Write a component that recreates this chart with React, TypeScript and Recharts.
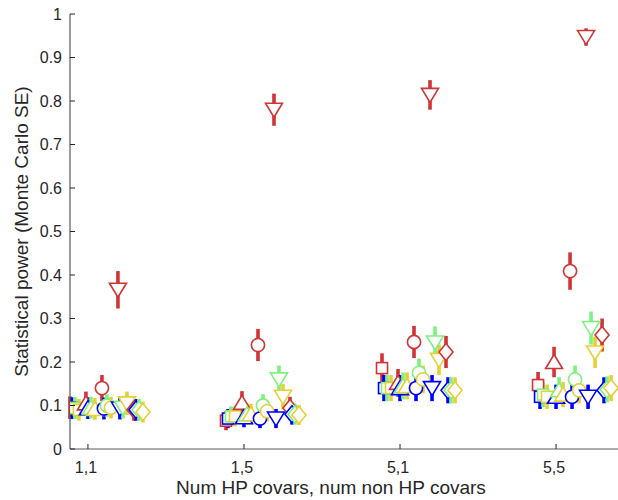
import React from 'react';
import { ScatterChart, Scatter, XAxis, YAxis, ErrorBar, Label } from 'recharts';

// ---- categories & ticks ----
const groupLabels = ['1,1', '1,5', '5,1', '5,5'];
const groupTicks = [1, 2, 3, 4];
const yTicks = [0, 0.1, 0.2, 0.3, 0.4, 0.5, 0.6, 0.7, 0.8, 0.9, 1];

// ---- series values (statistical power) and Monte Carlo SE, one entry per category ----
const redSquare = [0.095, 0.065, 0.186, 0.147];
const redSquareSE = [0.026, 0.022, 0.034, 0.03];
const redTriUp = [0.105, 0.106, 0.152, 0.2];
const redTriUpSE = [0.027, 0.027, 0.032, 0.035];
const redCircle = [0.14, 0.239, 0.246, 0.409];
const redCircleSE = [0.03, 0.037, 0.037, 0.043];
const redTriDown = [0.366, 0.78, 0.814, 0.947];
const redTriDownSE = [0.043, 0.037, 0.034, 0.02];
const redDiamond = [0.09, 0.094, 0.223, 0.262];
const redDiamondSE = [0.025, 0.026, 0.037, 0.038];

const blueSquare = [0.094, 0.07, 0.14, 0.12];
const blueSquareSE = [0.025, 0.022, 0.03, 0.028];
const blueTriUp = [0.094, 0.073, 0.14, 0.12];
const blueTriUpSE = [0.025, 0.023, 0.03, 0.028];
const blueCircle = [0.093, 0.07, 0.14, 0.12];
const blueCircleSE = [0.025, 0.022, 0.03, 0.028];
const blueTriDown = [0.093, 0.07, 0.14, 0.12];
const blueTriDownSE = [0.025, 0.022, 0.03, 0.028];
const blueDiamond = [0.09, 0.08, 0.135, 0.135];
const blueDiamondSE = [0.025, 0.024, 0.03, 0.03];

const greenSquare = [0.094, 0.075, 0.14, 0.125];
const greenSquareSE = [0.025, 0.023, 0.03, 0.029];
const greenTriUp = [0.095, 0.08, 0.145, 0.135];
const greenTriUpSE = [0.025, 0.024, 0.031, 0.03];
const greenCircle = [0.1, 0.1, 0.175, 0.16];
const greenCircleSE = [0.026, 0.026, 0.033, 0.032];
const greenTriDown = [0.095, 0.16, 0.245, 0.278];
const greenTriDownSE = [0.025, 0.032, 0.037, 0.038];
const greenDiamond = [0.09, 0.08, 0.135, 0.137];
const greenDiamondSE = [0.025, 0.024, 0.03, 0.03];

const yellowSquare = [0.09, 0.075, 0.14, 0.12];
const yellowSquareSE = [0.025, 0.023, 0.03, 0.028];
const yellowTriUp = [0.092, 0.08, 0.145, 0.125];
const yellowTriUpSE = [0.025, 0.024, 0.031, 0.029];
const yellowCircle = [0.095, 0.087, 0.16, 0.135];
const yellowCircleSE = [0.025, 0.024, 0.032, 0.03];
const yellowTriDown = [0.105, 0.12, 0.205, 0.222];
const yellowTriDownSE = [0.027, 0.029, 0.035, 0.036];
const yellowDiamond = [0.085, 0.078, 0.135, 0.14];
const yellowDiamondSE = [0.024, 0.023, 0.03, 0.03];

// ---- styling ----
const COLORS: Record<string, string> = {
  red: '#d03434',
  blue: '#0000ff',
  green: '#7ef27e',
  yellow: '#e6d035',
};
const colorOrder = ['red', 'blue', 'green', 'yellow'];
const colorOffsetsPx = [0, 2, 5, 9];
const shapeOrder = ['square', 'triUp', 'circle', 'triDown', 'diamond'];
const firstShapePx = -18;
const shapeStepPx = 16;
const X_MIN = 0.885;
const X_MAX = 4.397;
const PLOT_LEFT = 70;
const PLOT_RIGHT = 618;
const pxPerUnit = (PLOT_RIGHT - PLOT_LEFT) / (X_MAX - X_MIN);
const FONT = '"Liberation Sans", Arial, Helvetica, sans-serif';
const TEXT = '#262626';

const valueTable: Record<string, Record<string, [number[], number[]]>> = {
  red: {
    square: [redSquare, redSquareSE],
    triUp: [redTriUp, redTriUpSE],
    circle: [redCircle, redCircleSE],
    triDown: [redTriDown, redTriDownSE],
    diamond: [redDiamond, redDiamondSE],
  },
  blue: {
    square: [blueSquare, blueSquareSE],
    triUp: [blueTriUp, blueTriUpSE],
    circle: [blueCircle, blueCircleSE],
    triDown: [blueTriDown, blueTriDownSE],
    diamond: [blueDiamond, blueDiamondSE],
  },
  green: {
    square: [greenSquare, greenSquareSE],
    triUp: [greenTriUp, greenTriUpSE],
    circle: [greenCircle, greenCircleSE],
    triDown: [greenTriDown, greenTriDownSE],
    diamond: [greenDiamond, greenDiamondSE],
  },
  yellow: {
    square: [yellowSquare, yellowSquareSE],
    triUp: [yellowTriUp, yellowTriUpSE],
    circle: [yellowCircle, yellowCircleSE],
    triDown: [yellowTriDown, yellowTriDownSE],
    diamond: [yellowDiamond, yellowDiamondSE],
  },
};

const series = shapeOrder.flatMap((shape, si) =>
  colorOrder.map((color, ci) => {
    const [vals, ses] = valueTable[color][shape];
    const offset = (firstShapePx + si * shapeStepPx + colorOffsetsPx[ci]) / pxPerUnit;
    return {
      key: `${color}-${shape}`,
      shape,
      color: COLORS[color],
      data: vals.map((v, g) => ({ x: groupTicks[g] + offset, y: v, err: ses[g] })),
    };
  })
);

function Marker({ cx, cy, kind, color }: { cx: number; cy: number; kind: string; color: string }) {
  const common = { fill: '#ffffff', stroke: color, strokeWidth: 1.6 };
  if (cx == null || cy == null) return null;
  switch (kind) {
    case 'square':
      return <rect x={cx - 5.5} y={cy - 5.5} width={11} height={11} {...common} />;
    case 'circle':
      return <circle cx={cx} cy={cy} r={6.6} {...common} />;
    case 'triUp':
      return <polygon points={`${cx},${cy - 7.5} ${cx + 8.5},${cy + 6.5} ${cx - 8.5},${cy + 6.5}`} {...common} />;
    case 'triDown':
      return <polygon points={`${cx - 8.5},${cy - 6.5} ${cx + 8.5},${cy - 6.5} ${cx},${cy + 7.5}`} {...common} />;
    case 'diamond':
    default:
      return <polygon points={`${cx},${cy - 8.5} ${cx + 7},${cy} ${cx},${cy + 8.5} ${cx - 7},${cy}`} {...common} />;
  }
}

const YTick = (props: any) => {
  const { x, y, payload } = props;
  const axisX = x + 8;
  return (
    <g>
      <line x1={axisX} x2={axisX + 5} y1={y} y2={y} stroke={TEXT} strokeWidth={1} />
      <text x={x} y={y} dy={5.6} textAnchor="end" fontSize={16} fill={TEXT} fontFamily={FONT}>
        {String(payload.value)}
      </text>
    </g>
  );
};

const XTick = (props: any) => {
  const { x, y, payload } = props;
  const axisY = y - 6;
  const idx = groupTicks.indexOf(payload.value);
  return (
    <g>
      <line x1={x} x2={x} y1={axisY} y2={axisY - 5} stroke={TEXT} strokeWidth={1} />
      <text x={x - 2} y={y} dy={17.5} textAnchor="middle" fontSize={16} fill={TEXT} fontFamily={FONT}>
        {idx >= 0 ? groupLabels[idx] : ''}
      </text>
    </g>
  );
};

const YTitle = (props: any) => {
  const vb = props.viewBox || { x: 0, y: 14, width: 70, height: 435 };
  const cx = vb.x + 21;
  const cy = vb.y + vb.height / 2;
  return (
    <text
      x={cx}
      y={cy}
      dy="0.35em"
      transform={`rotate(-90, ${cx}, ${cy})`}
      textAnchor="middle"
      fontSize={19}
      fill={TEXT}
      fontFamily={FONT}
    >
      Statistical power (Monte Carlo SE)
    </text>
  );
};

const XTitle = (props: any) => {
  const vb = props.viewBox || { x: 70, y: 449, width: 548, height: 51 };
  return (
    <text x={331} y={vb.y + 45} textAnchor="middle" fontSize={19} fill={TEXT} fontFamily={FONT}>
      Num HP covars, num non HP covars
    </text>
  );
};

export default function App() {
  return (
    <div style={{ position: 'absolute', left: 0, top: 0, width: 618, height: 500, background: '#fff' }}>
      <ScatterChart width={618} height={500} margin={{ top: 14, right: 0, bottom: 0, left: 0 }}>
        <XAxis
          type="number"
          dataKey="x"
          domain={[X_MIN, X_MAX]}
          allowDataOverflow
          ticks={groupTicks}
          interval={0}
          height={51}
          tickSize={0}
          tickMargin={6}
          tickLine={false}
          tick={<XTick />}
          axisLine={{ stroke: '#5a5a5a', strokeWidth: 1.2 }}
        >
          <Label content={<XTitle />} />
        </XAxis>
        <YAxis
          type="number"
          dataKey="y"
          domain={[0, 1]}
          allowDataOverflow
          ticks={yTicks}
          interval={0}
          width={70}
          tickSize={0}
          tickMargin={8}
          tickLine={false}
          tick={<YTick />}
          axisLine={{ stroke: '#5a5a5a', strokeWidth: 1.2 }}
        >
          <Label content={<YTitle />} />
        </YAxis>
        {series.map((s) => (
          <Scatter
            key={s.key}
            data={s.data}
            isAnimationActive={false}
            shape={(p: any) => <Marker cx={p.cx} cy={p.cy} kind={s.shape} color={s.color} />}
          >
            <ErrorBar dataKey="err" direction="y" width={0} strokeWidth={3.6} stroke={s.color} isAnimationActive={false} />
          </Scatter>
        ))}
      </ScatterChart>
    </div>
  );
}
